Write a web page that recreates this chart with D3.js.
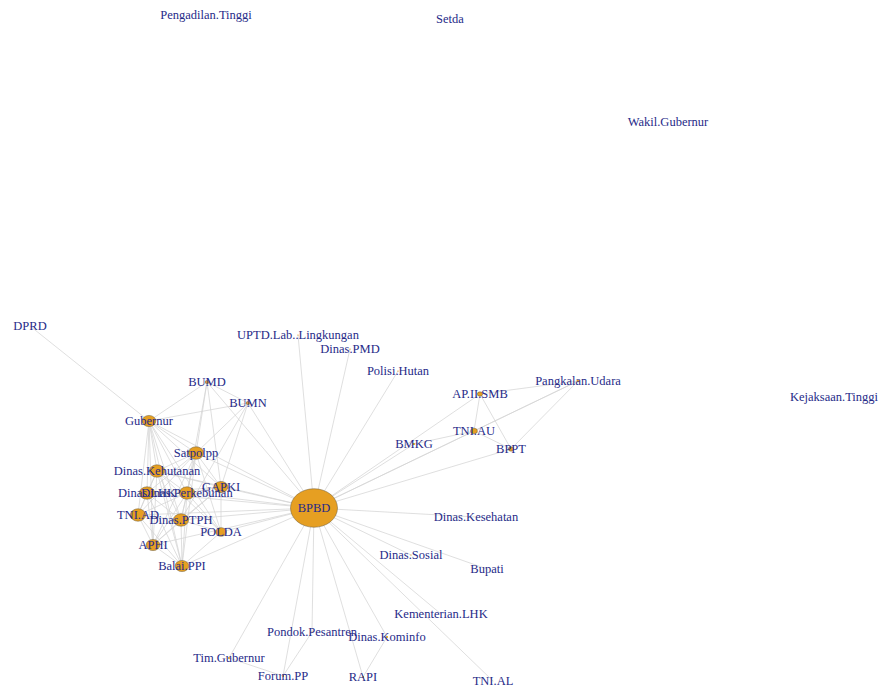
<!DOCTYPE html>
<html>
<head>
<meta charset="utf-8">
<script src="https://cdn.jsdelivr.net/npm/d3@7"></script>
<style>
  body { margin: 0; background: #fff; }
  svg { display: block; }
</style>
</head>
<body>
<div id="net"></div>
<script>
    // node names, layout coordinates and vertex size
    const nodeNames = ['Pengadilan.Tinggi','Setda','Wakil.Gubernur','Kejaksaan.Tinggi','DPRD',
      'UPTD.Lab..Lingkungan','Dinas.PMD','Polisi.Hutan','BUMD','BUMN','AP.II.SMB','Pangkalan.Udara',
      'Gubernur','TNI.AU','BMKG','BPPT','Satpolpp','Dinas.Kehutanan','GAPKI','Dinas.LHK',
      'Dinas.Perkebunan','BPBD','TNI.AD','Dinas.PTPH','POLDA','Dinas.Kesehatan','APHI','Dinas.Sosial',
      'Balai.PPI','Bupati','Kementerian.LHK','Pondok.Pesantren','Dinas.Kominfo','Tim.Gubernur',
      'Forum.PP','RAPI','TNI.AL'];
    const layoutX = [206,450,668,834,30, 298,350,398,207,248,480,578, 149,474,414,511,196,157,221,147,
      187,314,138,181,221,476,153,411, 182,487,441,312,387,229, 283,363,493];
    const layoutY = [15,19,122,397,326, 335,349,371,382,403,394,381, 421,431,444,449,453,471,487,493,
      493,508,515,520,532,517,545,555, 566,569,614,632,637,658, 676,677,681];
    const nodeSize = [0,0,0,0,0.5, 1,1,1,2.5,2.5,3.5,2, 9,4.5,1.5,3.5,10,10,9,10,
      10,31,10,10,7,0.5,9,1, 9,0.5,0.5,1,1.5,1.5, 1.5,1.5,0.5];

    const hubEdges = ['UPTD.Lab..Lingkungan','Dinas.PMD','Polisi.Hutan','BMKG','AP.II.SMB','TNI.AU','BPPT',
      'Pangkalan.Udara','Dinas.Kesehatan','Dinas.Sosial','Bupati','Kementerian.LHK','TNI.AL','Dinas.Kominfo',
      'RAPI','Pondok.Pesantren','Forum.PP','Tim.Gubernur','BUMD','BUMN','Gubernur','Satpolpp',
      'Dinas.Kehutanan','Dinas.LHK','Dinas.Perkebunan','GAPKI','TNI.AD','Dinas.PTPH','POLDA','APHI','Balai.PPI'];
    const otherEdges = [
      ['DPRD','Gubernur'],['Gubernur','BUMD'],['Gubernur','BUMN'],['Gubernur','Satpolpp'],
      ['Gubernur','Dinas.Kehutanan'],['Gubernur','Dinas.LHK'],['Gubernur','Dinas.Perkebunan'],
      ['Gubernur','GAPKI'],['Gubernur','TNI.AD'],['Gubernur','Dinas.PTPH'],['Gubernur','APHI'],
      ['Gubernur','Balai.PPI'],['Gubernur','POLDA'],
      ['BUMD','Satpolpp'],['BUMD','GAPKI'],['BUMD','Dinas.Perkebunan'],['BUMD','BUMN'],
      ['BUMN','Satpolpp'],['BUMN','GAPKI'],['BUMN','Dinas.PTPH'],
      ['Satpolpp','Dinas.Kehutanan'],['Satpolpp','Dinas.LHK'],['Satpolpp','Dinas.Perkebunan'],
      ['Satpolpp','GAPKI'],['Satpolpp','TNI.AD'],['Satpolpp','Dinas.PTPH'],['Satpolpp','POLDA'],
      ['Satpolpp','APHI'],['Satpolpp','Balai.PPI'],
      ['Dinas.Kehutanan','Dinas.LHK'],['Dinas.Kehutanan','Dinas.Perkebunan'],['Dinas.Kehutanan','GAPKI'],
      ['Dinas.Kehutanan','TNI.AD'],['Dinas.Kehutanan','Dinas.PTPH'],['Dinas.Kehutanan','APHI'],
      ['Dinas.Kehutanan','Balai.PPI'],['Dinas.Kehutanan','POLDA'],
      ['Dinas.LHK','Dinas.Perkebunan'],['Dinas.LHK','TNI.AD'],['Dinas.LHK','Dinas.PTPH'],
      ['Dinas.LHK','APHI'],['Dinas.LHK','Balai.PPI'],['Dinas.LHK','GAPKI'],
      ['Dinas.Perkebunan','GAPKI'],['Dinas.Perkebunan','TNI.AD'],['Dinas.Perkebunan','Dinas.PTPH'],
      ['Dinas.Perkebunan','APHI'],['Dinas.Perkebunan','Balai.PPI'],['Dinas.Perkebunan','POLDA'],
      ['GAPKI','Dinas.PTPH'],['GAPKI','POLDA'],['GAPKI','APHI'],
      ['TNI.AD','Dinas.PTPH'],['TNI.AD','APHI'],['TNI.AD','Balai.PPI'],
      ['Dinas.PTPH','APHI'],['Dinas.PTPH','Balai.PPI'],['Dinas.PTPH','POLDA'],
      ['APHI','Balai.PPI'],['POLDA','Balai.PPI'],
      ['AP.II.SMB','TNI.AU'],['AP.II.SMB','BPPT'],['AP.II.SMB','Pangkalan.Udara'],
      ['TNI.AU','BPPT'],['TNI.AU','Pangkalan.Udara'],['BPPT','Pangkalan.Udara'],['BMKG','TNI.AU'],
      ['Tim.Gubernur','Forum.PP'],['Pondok.Pesantren','Forum.PP'],['Dinas.Kominfo','RAPI']
    ];

    const width = 885, height = 689;

    const nodes = nodeNames.map((n, i) => ({ name: n, lx: layoutX[i], ly: layoutY[i], size: nodeSize[i] }));
    const byName = new Map(nodes.map(d => [d.name, d]));
    const links = hubEdges.map(t => ({ source: byName.get('BPBD'), target: byName.get(t) }))
      .concat(otherEdges.map(e => ({ source: byName.get(e[0]), target: byName.get(e[1]) })));

    const x = d3.scaleLinear().domain(d3.extent(layoutX)).range([30, 834]);
    const y = d3.scaleLinear().domain(d3.extent(layoutY)).range([15, 681]);
    const r = d3.scaleLinear().domain([0, 31]).range([0, 23.5]);

    const svg = d3.select('#net').append('svg')
      .attr('width', width)
      .attr('height', height);

    svg.append('g').selectAll('line')
      .data(links)
      .join('line')
      .attr('x1', d => x(d.source.lx))
      .attr('y1', d => y(d.source.ly))
      .attr('x2', d => x(d.target.lx))
      .attr('y2', d => y(d.target.ly))
      .attr('stroke', '#d4d4d4')
      .attr('stroke-width', 0.75);

    svg.append('g').selectAll('ellipse')
      .data(nodes.filter(d => d.size > 0))
      .join('ellipse')
      .attr('cx', d => x(d.lx))
      .attr('cy', d => y(d.ly))
      .attr('rx', d => r(d.size))
      .attr('ry', d => r(d.size) * 0.82)
      .attr('fill', '#e69f22')
      .attr('stroke', '#6b5a3a')
      .attr('stroke-width', d => d.size > 2 ? 0.5 : 0);

    svg.append('g').selectAll('text')
      .data(nodes)
      .join('text')
      .attr('x', d => x(d.lx))
      .attr('y', d => y(d.ly))
      .attr('dy', '0.33em')
      .attr('text-anchor', 'middle')
      .style('font-family', '"Liberation Serif", "DejaVu Serif", serif')
      .style('font-size', '12.5px')
      .style('fill', '#262a88')
      .text(d => d.name);
</script>
</body>
</html>
